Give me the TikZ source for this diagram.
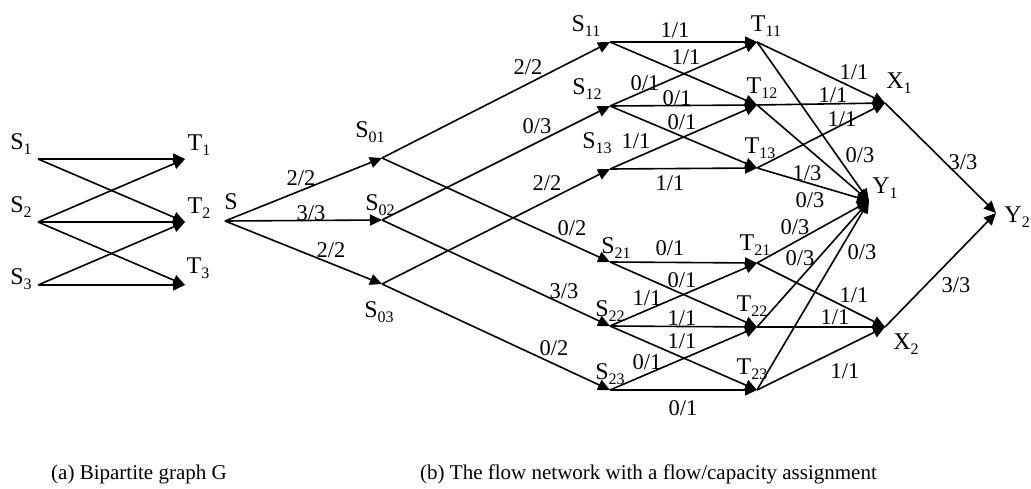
\documentclass[tikz,border=0pt]{standalone}
\usepackage{fontspec}
\setmainfont{Liberation Serif}
\usetikzlibrary{arrows.meta}
\newcommand\nsub[2]{#1\raisebox{-4.5pt}{\fontsize{16}{16}\selectfont #2}}
\begin{document}
\begin{tikzpicture}[x=1pt,y=-1pt,
 arr/.style={line width=1.6pt,-{Triangle[length=12pt,width=11pt]}},
 nlab/.style={font=\fontsize{24}{24}\selectfont,inner sep=0pt},
 elab/.style={font=\fontsize{22.5}{22.5}\selectfont,inner sep=0pt},
 captxt/.style={font=\fontsize{21}{21}\selectfont,inner sep=0pt,anchor=west}]
\useasboundingbox (0,0) rectangle (1031,489);
% ---------- (a) bipartite graph ----------
\coordinate (A1) at (38,159);
\coordinate (A2) at (38,222);
\coordinate (A3) at (38,285);
\coordinate (B1) at (185,159);
\coordinate (B2) at (185,222);
\coordinate (B3) at (185,285);
\node[nlab] (lA1) at (21,144) {\nsub{S}{1}};
\node[nlab] (lA2) at (21,207) {\nsub{S}{2}};
\node[nlab] (lA3) at (21,279) {\nsub{S}{3}};
\node[nlab] (lB1) at (199,145) {\nsub{T}{1}};
\node[nlab] (lB2) at (199,208) {\nsub{T}{2}};
\node[nlab] (lB3) at (198,268) {\nsub{T}{3}};
\draw[arr] (A1) -- (B1);
\draw[arr] (A1) -- (B2);
\draw[arr] (A2) -- (B1);
\draw[arr] (A2) -- (B2);
\draw[arr] (A2) -- (B3);
\draw[arr] (A3) -- (B2);
\draw[arr] (A3) -- (B3);
% ---------- (b) flow network ----------
\coordinate (S) at (225,221);
\coordinate (S01) at (382,158);
\coordinate (S02) at (382,220);
\coordinate (S03) at (382,284);
\coordinate (S11) at (610,42);
\coordinate (S12) at (610,106);
\coordinate (S13) at (610,169);
\coordinate (S21) at (610,262);
\coordinate (S22) at (610,326);
\coordinate (S23) at (610,390);
\coordinate (T11) at (757,42);
\coordinate (T12) at (757,105);
\coordinate (T13) at (757,168);
\coordinate (T21) at (757,263);
\coordinate (T22) at (757,327);
\coordinate (T23) at (757,390);
\coordinate (X1) at (885,103);
\coordinate (X2) at (885,327);
\coordinate (Y1) at (869,201);
\coordinate (Y2) at (996,213);
% node names
\node[nlab] (lS) at (231,202) {S};
\node[nlab] (lS01) at (370,132) {\nsub{S}{01}};
\node[nlab] (lS02) at (380,205) {\nsub{S}{02}};
\node[nlab] (lS03) at (379,312) {\nsub{S}{03}};
\node[nlab] (lS11) at (586,26) {\nsub{S}{11}};
\node[nlab] (lS12) at (587,89) {\nsub{S}{12}};
\node[nlab] (lS13) at (597,143) {\nsub{S}{13}};
\node[nlab] (lS21) at (616,248) {\nsub{S}{21}};
\node[nlab] (lS22) at (610,311) {\nsub{S}{22}};
\node[nlab] (lS23) at (610,374) {\nsub{S}{23}};
\node[nlab] (lT11) at (766,26) {\nsub{T}{11}};
\node[nlab] (lT12) at (762,88) {\nsub{T}{12}};
\node[nlab] (lT13) at (760,148) {\nsub{T}{13}};
\node[nlab] (lT21) at (755,245) {\nsub{T}{21}};
\node[nlab] (lT22) at (752,306) {\nsub{T}{22}};
\node[nlab] (lT23) at (752,369) {\nsub{T}{23}};
\node[nlab] (lX1) at (899,83) {\nsub{X}{1}};
\node[nlab] (lX2) at (906,344) {\nsub{X}{2}};
\node[nlab] (lY1) at (885,188) {\nsub{Y}{1}};
\node[nlab,anchor=east] (lY2) at (1030,217) {\nsub{Y}{2}};
% edges
\draw[arr] (S) -- (S01);
\draw[arr] (S) -- (S02);
\draw[arr] (S) -- (S03);
\draw[arr] (S01) -- (S11);
\draw[arr] (S01) -- (S21);
\draw[arr] (S02) -- (S12);
\draw[arr] (S02) -- (S22);
\draw[arr] (S03) -- (S13);
\draw[arr] (S03) -- (S23);
\draw[arr] (S11) -- (T11);
\draw[arr] (S11) -- (T12);
\draw[arr] (S12) -- (T11);
\draw[arr] (S12) -- (T12);
\draw[arr] (S12) -- (T13);
\draw[arr] (S13) -- (T12);
\draw[arr] (S13) -- (T13);
\draw[arr] (S21) -- (T21);
\draw[arr] (S21) -- (T22);
\draw[arr] (S22) -- (T21);
\draw[arr] (S22) -- (T22);
\draw[arr] (S22) -- (T23);
\draw[arr] (S23) -- (T22);
\draw[arr] (S23) -- (T23);
\draw[arr] (T11) -- (X1);
\draw[arr] (T12) -- (X1);
\draw[arr] (T13) -- (X1);
\draw[arr] (T11) -- (Y1);
\draw[arr] (T12) -- (Y1);
\draw[arr] (T13) -- (Y1);
\draw[arr] (T21) -- (Y1);
\draw[arr] (T22) -- (Y1);
\draw[arr] (T23) -- (Y1);
\draw[arr] (T21) -- (X2);
\draw[arr] (T22) -- (X2);
\draw[arr] (T23) -- (X2);
\draw[arr] (X1) -- (Y2);
\draw[arr] (X2) -- (Y2);
% edge labels
\node[elab] (e1) at (301,178) {2/2};
\node[elab] (e2) at (311,213) {3/3};
\node[elab] (e3) at (331,250) {2/2};
\node[elab] (e4) at (528,67) {2/2};
\node[elab] (e5) at (537,126) {0/3};
\node[elab] (e6) at (547,183) {2/2};
\node[elab] (e7) at (572,228) {0/2};
\node[elab] (e8) at (564,291) {3/3};
\node[elab] (e9) at (554,348) {0/2};
\node[elab] (f1) at (675,30) {1/1};
\node[elab] (f2) at (686,57) {1/1};
\node[elab] (f3) at (645,83) {0/1};
\node[elab] (f4) at (677,98) {0/1};
\node[elab] (f5) at (682,122) {0/1};
\node[elab] (f6) at (636,141) {1/1};
\node[elab] (f7) at (670,183) {1/1};
\node[elab] (g1) at (670,248) {0/1};
\node[elab] (g2) at (682,280) {0/1};
\node[elab] (g3) at (647,298) {1/1};
\node[elab] (g4) at (682,318) {1/1};
\node[elab] (g5) at (682,341) {1/1};
\node[elab] (g6) at (647,362) {0/1};
\node[elab] (g7) at (683,408) {0/1};
\node[elab] (h1) at (854,72) {1/1};
\node[elab] (h2) at (833,95) {1/1};
\node[elab] (h3) at (842,119) {1/1};
\node[elab] (h4) at (860,155) {0/3};
\node[elab] (h5) at (807,173) {1/3};
\node[elab] (h6) at (810,200) {0/3};
\node[elab] (h7) at (795,227) {0/3};
\node[elab] (h8) at (800,258) {0/3};
\node[elab] (h9) at (862,252) {0/3};
\node[elab] (k1) at (963,162) {3/3};
\node[elab] (k2) at (956,285) {3/3};
\node[elab] (k3) at (854,295) {1/1};
\node[elab] (k4) at (835,317) {1/1};
\node[elab] (k5) at (845,371) {1/1};
% captions
\node[captxt] (capa) at (51,474) {(a) Bipartite graph G};
\node[captxt] (capb) at (420,474) {(b) The flow network with a flow/capacity assignment};
\end{tikzpicture}
\end{document}
